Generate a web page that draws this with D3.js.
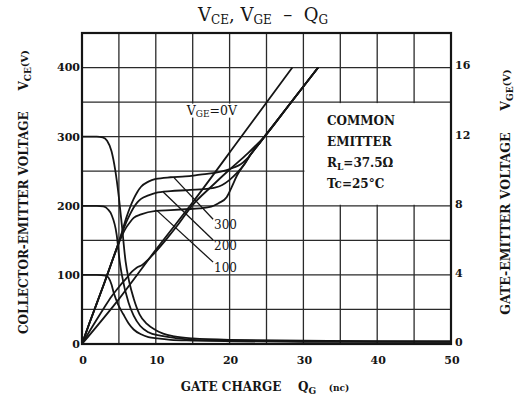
<!DOCTYPE html>
<html>
<head>
<meta charset="utf-8">
<script src="https://cdn.jsdelivr.net/npm/d3@7"></script>
<style>
  body { margin: 0; background: #fff; }
  svg { display: block; }
</style>
</head>
<body>
<div id="chart"></div>
<script>
// ---- data ----
const qTicks = [0, 10, 20, 30, 40, 50];          // gate charge QG (nC)
const vceTicks = [0, 100, 200, 300, 400];        // left axis VCE (V)
const vgeTicks = [0, 4, 8, 12, 16];              // right axis VGE (V)

// collector-emitter voltage, [QG nC, VCE V], one per supply voltage
const vce300 = [[0, 300], [1, 300], [2, 300], [2.8, 299], [3.4, 294], [4, 279], [4.5, 252], [5, 212],
  [5.4, 172], [5.9, 120], [6.4, 90], [7, 66], [7.8, 43], [8.8, 29], [10, 20], [11, 15], [12.5, 11],
  [15, 8], [20, 6], [30, 5], [40, 4], [50, 4]];
const vce200 = [[0, 200], [1, 200], [2, 200], [2.9, 199], [3.5, 195], [4, 187], [4.7, 158], [5.1, 120],
  [5.4, 100], [6.3, 60], [7, 41], [7.9, 26], [9, 17], [10.6, 12], [12.5, 9], [15, 6], [20, 5],
  [30, 4], [50, 3]];
const vce100 = [[0, 100], [1, 100], [2, 100], [3.2, 99], [3.6, 96], [4, 86], [4.3, 74], [4.9, 57],
  [5.6, 43], [6.3, 30], [7, 21], [8, 14], [9, 10], [10.2, 8], [12, 6], [15, 5], [20, 4], [30, 3], [50, 3]];

// gate-emitter voltage, [QG nC, VGE V]
const vge300 = [[0, 0], [1, 1.2], [2, 2.35], [3, 3.5], [4, 4.7], [5, 5.9], [5.5, 6.6], [6, 7.3],
  [6.5, 7.9], [7, 8.4], [7.5, 8.8], [8, 9.1], [9, 9.4], [10, 9.55], [12, 9.65], [14, 9.7], [16, 9.8],
  [18, 9.9], [19.5, 10.05], [20.5, 10.2], [21.5, 10.4], [22.3, 10.7], [24, 11.6], [28, 13.8], [32, 16]];
const vge200 = [[0, 0], [1, 1.2], [2, 2.35], [3, 3.5], [4, 4.7], [5, 5.9], [5.5, 6.5], [6, 7.05],
  [6.5, 7.5], [7, 7.9], [7.5, 8.2], [8, 8.4], [9, 8.6], [10, 8.75], [12, 8.85], [14, 8.9], [16, 8.95],
  [18, 9.05], [19, 9.2], [20, 9.5], [21, 9.9], [22, 10.4], [22.8, 10.95], [24, 11.6], [28, 13.8], [32, 16]];
const vge100 = [[0, 0], [1, 1.2], [2, 2.35], [3, 3.5], [4, 4.7], [5, 5.85], [5.5, 6.35], [6, 6.75],
  [6.5, 7.05], [7, 7.3], [8, 7.5], [10, 7.7], [12, 7.75], [14, 7.8], [16, 7.85], [17.5, 7.95],
  [18.5, 8.15], [19.6, 8.5], [20.3, 9.1], [21, 9.75], [22, 10.4], [23, 11.05], [24, 11.6], [28, 13.8], [32, 16]];
const vgeLow = [[0, 0], [1, 0.72], [2, 1.42], [3, 2.1], [4, 2.75], [5, 3.3], [6, 3.8], [6.8, 4.2],
  [7.4, 4.42], [8.1, 4.56], [9, 4.9], [10, 5.35], [11.5, 6.1], [13, 6.9], [15, 8.05], [17.5, 9.1],
  [20, 10.1], [22.5, 11.05], [24.6, 11.95], [28, 13.8], [32, 16]];
const vgeZero = [[0, 0], [5, 2.6], [10, 5.45], [15, 8.2], [21.5, 11.95], [28.5, 16]];

const vccLabels = ['300', '200', '100'];
const vgeSeries = [vge300, vge200, vge100];
const leaderQ = [12.4, 11, 10.2];                // where each label's leader touches its curve

// ---- layout ----
const W = 517, H = 400;
const margin = { top: 33, right: 66, bottom: 56, left: 82 };
const serif = '"DejaVu Serif", "Liberation Serif", serif';

const svg = d3.select('#chart').append('svg')
  .attr('width', W).attr('height', H)
  .style('font-family', serif);

const x = d3.scaleLinear().domain([0, 50]).range([margin.left, W - margin.right]);
const yL = d3.scaleLinear().domain([0, 450]).range([H - margin.bottom, margin.top]);
const yR = d3.scaleLinear().domain([0, 18]).range([H - margin.bottom, margin.top]);

const ink = '#151515';

// grid every 5 nC / 50 V
const grid = svg.append('g').attr('stroke', '#2a2a2a').attr('stroke-width', 1.3);
x.ticks(10).forEach(q => grid.append('line')
  .attr('x1', x(q)).attr('x2', x(q)).attr('y1', yL(0)).attr('y2', yL(450)));
yL.ticks(9).forEach(v => grid.append('line')
  .attr('x1', x(0)).attr('x2', x(50)).attr('y1', yL(v)).attr('y2', yL(v)));

// blank panel for the test conditions
svg.append('rect')
  .attr('x', x(30) + 1).attr('y', yL(350) + 1)
  .attr('width', x(50) - x(30) - 2).attr('height', yL(200) - yL(350) - 2)
  .attr('fill', '#fff');

// curves
const lineL = d3.line().x(d => x(d[0])).y(d => yL(d[1])).curve(d3.curveMonotoneX);
const lineR = d3.line().x(d => x(d[0])).y(d => yR(d[1])).curve(d3.curveMonotoneX);
const curves = svg.append('g').attr('fill', 'none').attr('stroke', ink)
  .attr('stroke-width', 1.8).attr('stroke-linejoin', 'round');
[vce300, vce200, vce100].forEach(s => curves.append('path').attr('d', lineL(s)));
[vge300, vge200, vge100, vgeLow, vgeZero].forEach(s => curves.append('path').attr('d', lineR(s)));

// frame
svg.append('rect')
  .attr('x', x(0)).attr('y', yL(450)).attr('width', x(50) - x(0)).attr('height', yL(0) - yL(450))
  .attr('fill', 'none').attr('stroke', ink).attr('stroke-width', 2.2);

// tick labels
const tickFont = g => g.attr('font-size', 11).attr('font-weight', 'bold').attr('fill', ink);
svg.append('g').call(tickFont).attr('text-anchor', 'end')
  .selectAll('text').data(vceTicks).join('text')
  .attr('x', x(0) - 2).attr('y', d => yL(d)).attr('dy', '0.35em').text(d => d);
svg.append('g').call(tickFont).attr('text-anchor', 'start')
  .selectAll('text').data(vgeTicks).join('text')
  .attr('x', x(50) + 4).attr('y', d => yR(d) - 2).attr('dy', '0.35em').text(d => d);
svg.append('g').call(tickFont).attr('text-anchor', 'middle')
  .selectAll('text').data(qTicks).join('text')
  .attr('x', d => x(d) + 1).attr('y', yL(0) + 20).text(d => d);

// interpolate a series at q
const at = (s, q) => {
  const i = d3.bisector(d => d[0]).left(s, q);
  const a = s[Math.max(0, i - 1)], b = s[Math.min(s.length - 1, i)];
  return a[0] === b[0] ? a[1] : a[1] + (b[1] - a[1]) * (q - a[0]) / (b[0] - a[0]);
};

// supply voltage labels with leader lines
const labX = x(17.9);
const labY = [yL(166), yL(136), yL(104)];
vccLabels.forEach((t, i) => {
  const s = vgeSeries[i];
  svg.append('line')
    .attr('x1', labX - 1).attr('y1', labY[i] - 10)
    .attr('x2', x(leaderQ[i])).attr('y2', yR(at(s, leaderQ[i])))
    .attr('stroke', ink).attr('stroke-width', 1.3);
  svg.append('text').attr('x', labX).attr('y', labY[i])
    .attr('font-size', 12).attr('fill', ink).text(t);
});

// VGE = 0V label
const zl = svg.append('g');
zl.append('rect').attr('x', x(14.1)).attr('y', yL(350) + 1.5)
  .attr('width', x(22.9) - x(14.1)).attr('height', 14).attr('fill', '#fff');
const zt = zl.append('text').attr('x', x(14.2)).attr('y', yL(350) + 12.5)
  .attr('font-size', 12.5).attr('fill', ink);
zt.append('tspan').text('V');
zt.append('tspan').attr('font-size', 9).attr('dy', 2).text('GE');
zt.append('tspan').attr('dy', -2).text('=0V');

// test condition block
const condX = x(33.2);
const cond = svg.append('g').attr('font-size', 12).attr('font-weight', 'bold').attr('fill', ink);
cond.append('text').attr('x', condX).attr('y', yL(317)).text('COMMON');
cond.append('text').attr('x', condX).attr('y', yL(287)).text('EMITTER');
const rl = cond.append('text').attr('x', condX).attr('y', yL(256));
rl.append('tspan').text('R');
rl.append('tspan').attr('font-size', 9).attr('dy', 3).text('L');
rl.append('tspan').attr('dy', -3).text('=37.5Ω');
cond.append('text').attr('x', condX).attr('y', yL(226)).text('Tc=25°C');

// title
const title = svg.append('text').attr('x', 263).attr('y', 21).attr('text-anchor', 'middle')
  .attr('font-size', 18).attr('fill', ink).style('white-space', 'pre');
title.append('tspan').text('V');
title.append('tspan').attr('font-size', 12).attr('dy', 3).text('CE');
title.append('tspan').attr('dy', -3).text(', V');
title.append('tspan').attr('font-size', 12).attr('dy', 3).text('GE');
title.append('tspan').attr('dy', -3).text('  –  Q');
title.append('tspan').attr('font-size', 12).attr('dy', 3).text('G');

// axis titles
const axisTitle = (tx, ty, rot, main, sub, size) => {
  const t = svg.append('text').attr('transform', `translate(${tx},${ty}) rotate(${rot})`)
    .attr('text-anchor', 'middle').attr('font-size', size).attr('font-weight', 'bold')
    .attr('fill', ink).style('white-space', 'pre');
  t.append('tspan').text(main + '     V');
  t.append('tspan').attr('font-size', 9).attr('dy', 3).text(sub);
  t.append('tspan').attr('dy', -3).attr('font-size', 10).text('(V)');
  return t;
};
axisTitle(28, 192, -90, 'COLLECTOR-EMITTER VOLTAGE', 'CE', 12);
axisTitle(510, 192, -90, 'GATE-EMITTER VOLTAGE', 'GE', 12.5);

const xt = svg.append('text').attr('x', 265).attr('y', 391).attr('text-anchor', 'middle')
  .attr('font-size', 12).attr('font-weight', 'bold').attr('fill', ink).style('white-space', 'pre');
xt.append('tspan').text('GATE CHARGE    Q');
xt.append('tspan').attr('font-size', 9).attr('dy', 3).text('G');
xt.append('tspan').attr('dy', -3).attr('font-size', 9).text('    (nc)');
</script>
</body>
</html>
